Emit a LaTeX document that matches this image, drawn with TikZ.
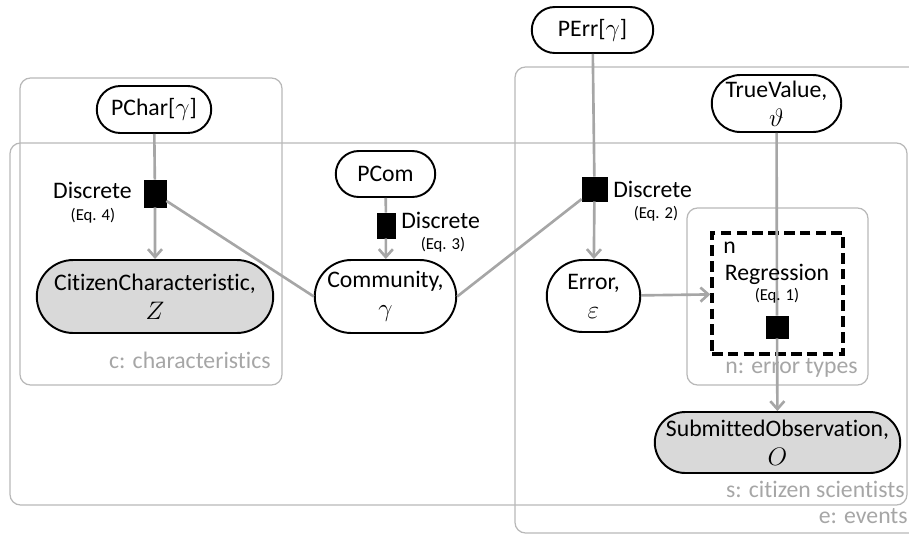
\documentclass[tikz,border=0pt]{standalone}
\usepackage{fontspec}
\setmainfont{Carlito}[Ligatures=NoCommon]
\usepackage{xcolor}
\usepackage{tikz}
\usetikzlibrary{arrows.meta}
\usetikzlibrary{shapes.misc}
\usetikzlibrary{positioning}

\definecolor{edgegray}{HTML}{A6A6A6}
\definecolor{plategray}{HTML}{B8B8B8}
\definecolor{obsfill}{HTML}{D9D9D9}

\begin{document}
\begin{tikzpicture}[x=0.02cm,y=-0.02cm,>={Straight Barb[length=4.5pt,width=8pt]},
  every node/.style={font=\fontsize{13.5}{16.5}\selectfont}]
 \tikzstyle{var}=[draw, fill=white, rounded rectangle, line width=1.1pt, align=center, inner sep=1pt]
 \tikzstyle{obs}=[var, fill=obsfill]
 \tikzstyle{fac}=[draw, fill=black, inner sep=0pt]
 \tikzstyle{plate}=[draw=plategray, line width=0.7pt, rounded corners=6pt]
 \tikzstyle{platelab}=[text=edgegray, anchor=base east, inner sep=0pt]
 \tikzstyle{txt}=[inner sep=0pt]
 \tikzstyle{eqn}=[inner sep=0pt, anchor=base, font=\fontsize{9.5}{10}\selectfont]
 \tikzstyle{conn}=[draw=edgegray, line width=1.5pt]
 \useasboundingbox (0,0) rectangle (909,535);
 \clip (0,0) rectangle (909,535);
 % plates
 \draw[plate] (20,78) rectangle (282,385);
 \draw[plate] (10,143) rectangle (907,505);
 \draw[plate] (515,67) rectangle (940,533);
 \draw[plate] (687,208) rectangle (868,385);
 \node[platelab] (cl) at (271,368) {c: characteristics};
 \node[platelab] (sl) at (905,497) {s: citizen scientists};
 \node[platelab] (el) at (908,523) {e: events};
 \node[platelab] (nl) at (858,373) {n: error types};
 % variables
 \node[var, minimum width=2.36cm, minimum height=0.94cm] (pchar) at (154,109.5) {PChar[$\gamma$]};
 \node[var, minimum width=2.06cm, minimum height=0.92cm] (pcom) at (385.5,174) {PCom};
 \node[var, minimum width=2.5cm, minimum height=0.92cm] (perr) at (592.5,30) {PErr[$\gamma$]};
 \node[var, minimum width=2.66cm, minimum height=1.14cm] (truev) at (776.5,103.5) {TrueValue,\\$\vartheta$};
 \node[obs, minimum width=4.8cm, minimum height=1.46cm] (cchar) at (155,296.5) {CitizenCharacteristic,\\$Z$};
 \node[var, minimum width=2.9cm, minimum height=1.46cm] (comm) at (385.5,296.5) {Community,\\$\gamma$};
 \node[var, minimum width=1.94cm, minimum height=1.44cm] (err) at (593.5,296) {Error,\\$\varepsilon$};
 \node[obs, minimum width=4.98cm, minimum height=1.22cm] (subobs) at (777.5,442.5) {SubmittedObservation,\\$O$};
 % regression box
 \node[draw, dash pattern=on 6pt off 3pt, line width=1.9pt, minimum width=2.62cm, minimum height=2.42cm] (reg) at (777.5,293.5) {};
 % factors
 \node[fac, minimum width=0.44cm, minimum height=0.54cm] (f4) at (155,193.5) {};
 \node[fac, minimum width=0.36cm, minimum height=0.5cm] (f3) at (386,225.5) {};
 \node[fac, minimum width=0.5cm, minimum height=0.48cm] (f2) at (594.5,189) {};
 \node[fac, minimum width=0.44cm, minimum height=0.44cm] (f1) at (777,327) {};
 % factor labels
 \node[txt, anchor=base east] (f4a) at (132,198) {Discrete};
 \node[eqn] (f4b) at (93,220) {(Eq. 4)};
 \node[txt, anchor=base west] (f3a) at (401,228) {Discrete};
 \node[eqn] (f3b) at (443,249) {(Eq. 3)};
 \node[txt, anchor=base west] (f2a) at (613,197) {Discrete};
 \node[eqn] (f2b) at (656,218) {(Eq. 2)};
 \path
 (pchar) edge [conn] (f4)
 (f4) edge [conn, ->] (cchar)
 (f4) edge [conn] (comm.west)
 (comm.east) edge [conn] (f2)
 (pcom) edge [conn] (f3)
 (f3) edge [conn, ->] (comm)
 (perr) edge [conn] (f2)
 (f2) edge [conn, ->] (err)
 (truev) edge [conn] (f1)
 (f1) edge [conn, ->] (subobs)
 (err) edge [conn, ->] (reg);
 \node[txt, anchor=base west] (rn) at (723,253) {n};
 \node[txt, anchor=base] (rt) at (777,280) {Regression};
 \node[eqn] (re) at (777,300) {(Eq. 1)};
\end{tikzpicture}
\end{document}
